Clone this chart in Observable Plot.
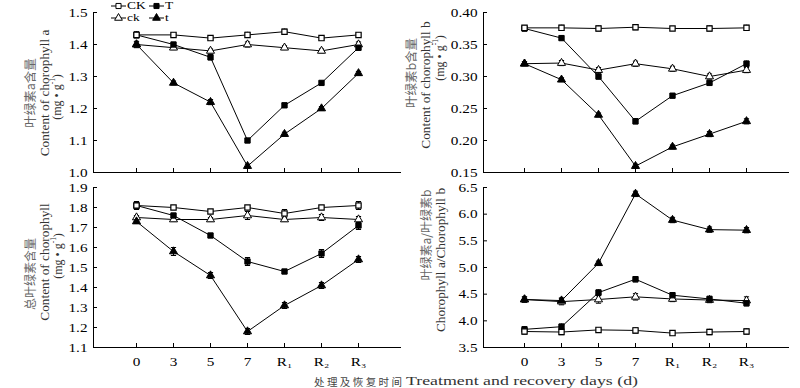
<!DOCTYPE html>
<html><head><meta charset="utf-8">
<script src="https://cdn.jsdelivr.net/npm/d3@7"></script>
<script src="https://cdn.jsdelivr.net/npm/@observablehq/plot@0.6"></script>
<style>
body{margin:0;background:#fff}
#wrap{position:relative;width:800px;height:388px;overflow:hidden;background:#fff}
#wrap > svg{position:absolute}
</style></head><body><div id="wrap"></div>
<script>
// ---- data ----
const days = ["0","3","5","7","R₁","R₂","R₃"];
const series = ["CK","ck","T","t"];

// chlorophyll a (mg/g)
const aCK = [1.43,1.43,1.42,1.43,1.44,1.42,1.43];
const ack = [1.40,1.39,1.38,1.40,1.39,1.38,1.40];
const aT  = [1.43,1.40,1.36,1.10,1.21,1.28,1.39];
const at  = [1.40,1.28,1.22,1.02,1.12,1.20,1.31];
const aCKe = [0.008,0.006,0.006,0.008,0.008,0.006,0.006];
const acke = [0.008,0.006,0.006,0.008,0.006,0.006,0.008];
const aTe  = [0.010,0.006,0.008,0.006,0.006,0.005,0.008];
const ate  = [0.010,0.006,0.008,0.006,0.006,0.006,0.006];

// chlorophyll b (mg/g)
const bCK = [0.376,0.376,0.375,0.377,0.375,0.375,0.376];
const bck = [0.320,0.321,0.310,0.320,0.312,0.300,0.310];
const bT  = [0.375,0.360,0.300,0.230,0.270,0.290,0.320];
const bt  = [0.320,0.295,0.240,0.160,0.190,0.210,0.230];
const bCKe = [0.003,0.004,0.004,0.004,0.003,0.004,0.004];
const bcke = [0.003,0.004,0.004,0.004,0.004,0.004,0.004];
const bTe  = [0.004,0.003,0.004,0.004,0.003,0.003,0.004];
const bte  = [0.003,0.003,0.003,0.003,0.003,0.004,0.004];

// total chlorophyll (mg/g)
const tCK = [1.81,1.80,1.78,1.80,1.77,1.80,1.81];
const tck = [1.75,1.74,1.74,1.76,1.74,1.75,1.74];
const tT  = [1.81,1.76,1.66,1.53,1.48,1.57,1.71];
const tt  = [1.73,1.58,1.46,1.18,1.31,1.41,1.54];
const tCKe = [0.020,0.010,0.010,0.010,0.020,0.010,0.020];
const tcke = [0.010,0.010,0.010,0.020,0.010,0.015,0.015];
const tTe  = [0.015,0.010,0.010,0.020,0.010,0.020,0.020];
const tte  = [0.010,0.020,0.015,0.015,0.015,0.015,0.015];

// chlorophyll a / chlorophyll b
const rCK = [3.80,3.79,3.83,3.82,3.77,3.79,3.80];
const rck = [4.40,4.36,4.40,4.45,4.41,4.39,4.38];
const rT  = [3.84,3.89,4.53,4.78,4.48,4.41,4.33];
const rt  = [4.40,4.38,5.08,6.38,5.89,5.71,5.70];
const rCKe = [0.05,0.05,0.04,0.05,0.04,0.05,0.05];
const rcke = [0.05,0.06,0.07,0.06,0.05,0.05,0.07];
const rTe  = [0.05,0.05,0.05,0.05,0.05,0.05,0.05];
const rte  = [0.05,0.05,0.04,0.05,0.05,0.05,0.05];

const ticksA = [1.0,1.1,1.2,1.3,1.4,1.5];
const ticksB = [0.15,0.20,0.25,0.30,0.35,0.40];
const ticksT = [1.1,1.2,1.3,1.4,1.5,1.6,1.7,1.8,1.9];
const ticksR = [3.5,4.0,4.5,5.0,5.5,6.0,6.5];

// ---- drawing ----
const wrap = document.getElementById("wrap");
const STRETCH = 1.22;
const SERIF = '"Liberation Serif", "Times New Roman", serif';
const CJK = '"Noto Sans CJK SC", sans-serif';

const capSymbol = {draw(ctx) { ctx.moveTo(-2.6, 0); ctx.lineTo(2.6, 0); }};

function stretchText(svg, s) {
  svg.querySelectorAll("text").forEach(el => {
    const t = el.getAttribute("transform") || "";
    const x = +(el.getAttribute("x") || 0);
    el.setAttribute("transform", `${t} translate(${x},0) scale(${s},1) translate(${-x},0)`);
  });
}

function panel({vals, errs, domain, ticks, fmt, left, top, height, mL, mR, mB, xr, showX}) {
  const rows = [];
  series.forEach((s, k) => days.forEach((d, i) => rows.push({day: d, s, v: vals[k][i], e: errs[k][i]})));
  const only = name => rows.filter(r => r.s === name);
  const chart = Plot.plot({
    width: 400, height,
    marginLeft: mL, marginRight: mR, marginTop: 12, marginBottom: mB,
    style: {fontFamily: SERIF, fontSize: "12.5px", color: "#000", background: "transparent", overflow: "visible"},
    x: {type: "point", domain: days, range: xr, label: null, tickSize: -4, tickPadding: 13.5, line: true,
        tickFormat: showX ? (d => d) : (() => "")},
    y: {domain, ticks, tickFormat: fmt, label: null, tickSize: -4, tickPadding: 10, line: true},
    marks: [
      Plot.line(rows, {x: "day", y: "v", z: "s", stroke: "#000", strokeWidth: 1}),
      Plot.ruleX(rows, {x: "day", y1: d => d.v - d.e, y2: d => d.v + d.e, stroke: "#000", strokeWidth: 1}),
      Plot.dot(rows, {x: "day", y: d => d.v - d.e, symbol: capSymbol, fill: "none", stroke: "#000", strokeWidth: 1}),
      Plot.dot(rows, {x: "day", y: d => d.v + d.e, symbol: capSymbol, fill: "none", stroke: "#000", strokeWidth: 1}),
      Plot.dot(only("ck"), {x: "day", y: "v", symbol: "triangle", r: 3.0, fill: "#fff", stroke: "#000", strokeWidth: 1}),
      Plot.dot(only("t"), {x: "day", y: "v", symbol: "triangle", r: 3.0, fill: "#000", stroke: "#000", strokeWidth: 1}),
      Plot.dot(only("T"), {x: "day", y: "v", symbol: "square", r: 3.0, fill: "#000", stroke: "#000", strokeWidth: 1}),
      Plot.dot(only("CK"), {x: "day", y: "v", symbol: "square", r: 3.0, fill: "#fff", stroke: "#000", strokeWidth: 1.2})
    ]
  });
  chart.style.left = left + "px";
  chart.style.top = top + "px";
  stretchText(chart, STRETCH);
  wrap.appendChild(chart);
}

const f1 = d3.format(".1f"), f2 = d3.format(".2f");
panel({vals: [aCK, ack, aT, at], errs: [aCKe, acke, aTe, ate], domain: [1.0, 1.5], ticks: ticksA, fmt: f1,
       left: 0, top: 0, height: 180, mL: 93, mR: 0, mB: 8, xr: [114.5, 380], showX: false});
panel({vals: [bCK, bck, bT, bt], errs: [bCKe, bcke, bTe, bte], domain: [0.15, 0.40], ticks: ticksB, fmt: f2,
       left: 400, top: 0, height: 180, mL: 83, mR: 12, mB: 8, xr: [102, 367], showX: false});
panel({vals: [tCK, tck, tT, tt], errs: [tCKe, tcke, tTe, tte], domain: [1.1, 1.9], ticks: ticksT, fmt: f1,
       left: 0, top: 175, height: 197, mL: 93, mR: 0, mB: 25, xr: [114.5, 380], showX: true});
panel({vals: [rCK, rck, rT, rt], errs: [rCKe, rcke, rTe, rte], domain: [3.5, 6.5], ticks: ticksR, fmt: f1,
       left: 400, top: 175, height: 197, mL: 83, mR: 12, mB: 25, xr: [102, 367], showX: true});

// ---- overlay: axis titles, legend, x title ----
const ov = d3.select(wrap).append("svg")
  .attr("width", 800).attr("height", 388)
  .style("left", "0px").style("top", "0px");

function vtitle(x, y, parts, color, font, size) {
  const t = ov.append("text")
    .attr("transform", `translate(${x},${y}) rotate(-90)`)
    .attr("text-anchor", "middle").attr("dominant-baseline", "central")
    .attr("fill", color).attr("font-family", font).attr("font-size", size);
  parts.forEach(p => {
    const sp = t.append("tspan").text(p.t);
    if (p.sup) sp.attr("font-size", size * 0.62).attr("dy", -size * 0.4);
    if (p.back) sp.attr("dy", size * 0.4);
  });
}
const mgParts = [{t: "(mg • g"}, {t: "-1", sup: true}, {t: ")", back: true}];

vtitle(29, 93, [{t: "叶绿素a含量"}], "#666", CJK, 12.5);
vtitle(43.5, 93, [{t: "Content of chorophyll a"}], "#333", SERIF, 13.3);
vtitle(57, 97, mgParts, "#333", SERIF, 12);

vtitle(410, 73, [{t: "叶绿素b含量"}], "#666", CJK, 12.5);
vtitle(425, 85, [{t: "Content of chorophyll b"}], "#333", SERIF, 13.3);
vtitle(440, 58, mgParts, "#333", SERIF, 12);

vtitle(29, 274, [{t: "总叶绿素含量"}], "#666", CJK, 12);
vtitle(44, 262, [{t: "Content of chorophyll"}], "#333", SERIF, 13.3);
vtitle(58, 256, mgParts, "#333", SERIF, 12);

vtitle(425, 235, [{t: "叶绿素a/叶绿素b"}], "#666", CJK, 12);
vtitle(440, 260, [{t: "Chorophyll a/Chorophyll b"}], "#333", SERIF, 13.3);

// legend
const legendItems = [
  {name: "CK", sym: "square", fill: "#fff", x0: 111, y: 6},
  {name: "T", sym: "square", fill: "#000", x0: 149, y: 6},
  {name: "ck", sym: "triangle", fill: "#fff", x0: 111, y: 18},
  {name: "t", sym: "triangle", fill: "#000", x0: 149, y: 18}
];
legendItems.forEach(it => {
  const g = ov.append("g");
  g.append("line").attr("x1", it.x0).attr("x2", it.x0 + 15).attr("y1", it.y).attr("y2", it.y).attr("stroke", "#000");
  const sym = it.sym === "square" ? d3.symbolSquare : d3.symbolTriangle;
  g.append("path").attr("d", d3.symbol(sym, 26)())
    .attr("transform", `translate(${it.x0 + 7.5},${it.y})`)
    .attr("fill", it.fill).attr("stroke", "#000");
  g.append("text").text(it.name)
    .attr("transform", `translate(${it.x0 + 16},${it.y}) scale(1.28,1)`)
    .attr("dominant-baseline", "central")
    .attr("font-family", SERIF).attr("font-size", 10.5).attr("fill", "#000");
});

// x title
ov.append("text").text("处理及恢复时间")
  .attr("x", 314).attr("y", 381).attr("dominant-baseline", "central")
  .attr("font-family", CJK).attr("font-size", 10.5).attr("fill", "#444")
  .attr("textLength", 88).attr("lengthAdjust", "spacing");
ov.append("text").text("Treatment and recovery days (d)")
  .attr("x", 406).attr("y", 381).attr("dominant-baseline", "central")
  .attr("font-family", SERIF).attr("font-size", 12.5).attr("fill", "#333")
  .attr("textLength", 232).attr("lengthAdjust", "spacingAndGlyphs");
</script></body></html>
